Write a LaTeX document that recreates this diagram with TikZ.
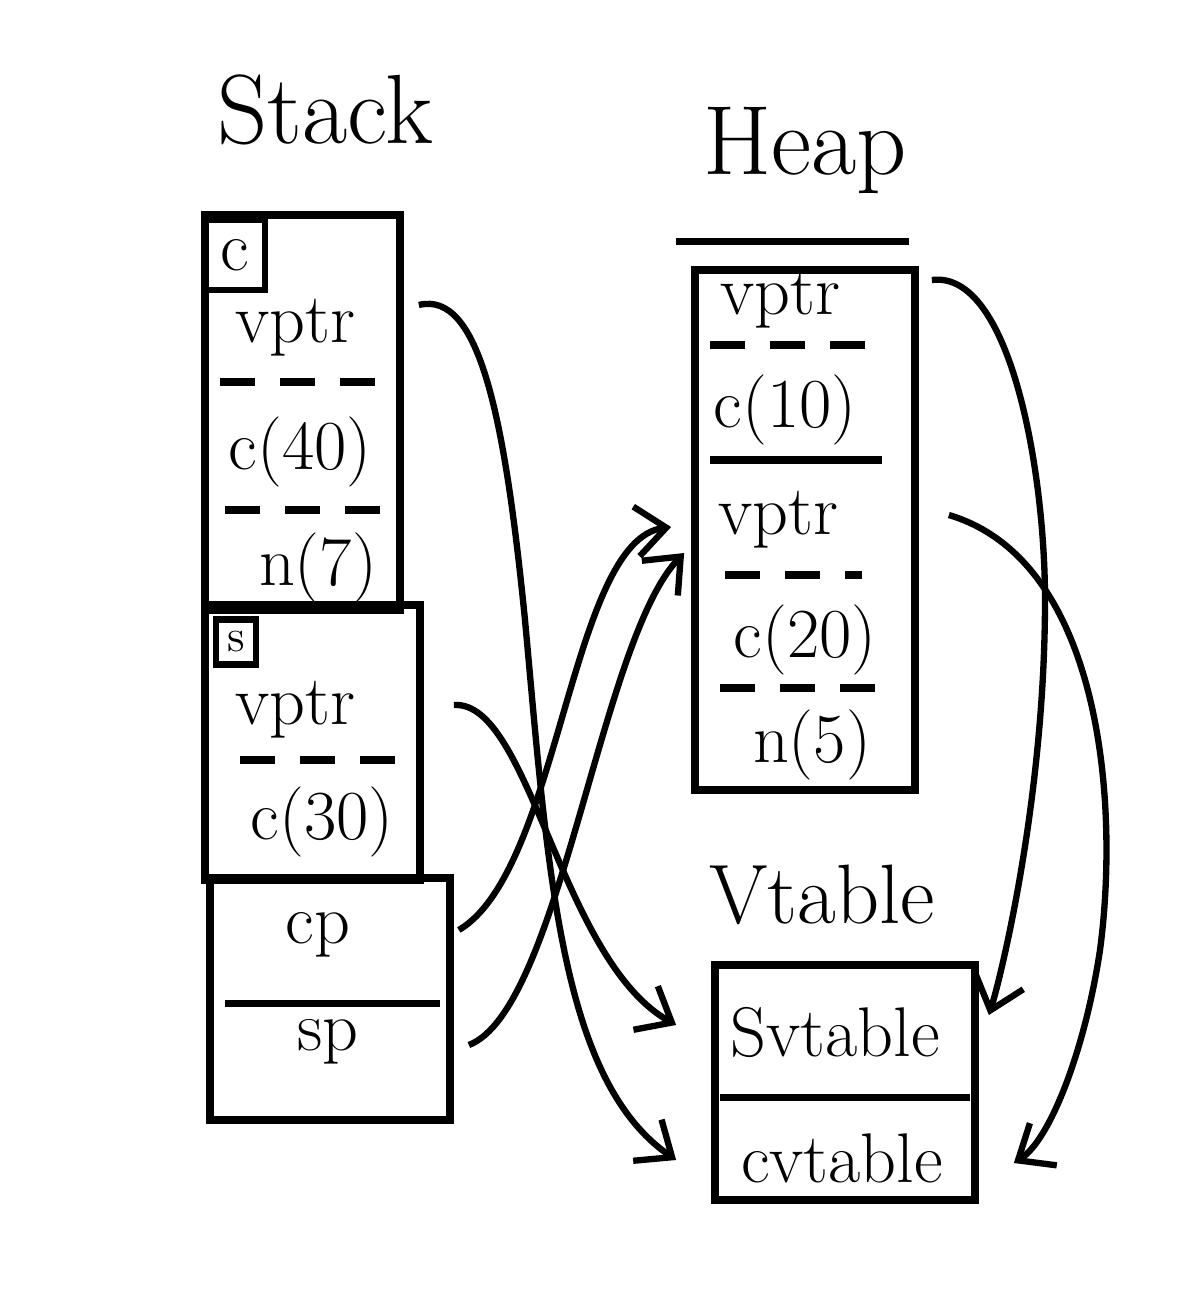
\documentclass[tikz,border=0pt]{standalone}
\usetikzlibrary{calc,arrows.meta}
\begin{document}
\begin{tikzpicture}[x=0.1mm, y=-0.1mm, font=\fontsize{20}{24}\selectfont]
% Define styles
\tikzstyle{box} = [rectangle, draw=black, line width=2.2pt, inner sep=0pt]
\tikzstyle{tag} = [rectangle, draw=black, line width=1.8pt, inner sep=0pt]
\tikzstyle{field} = [inner sep=1pt]
\tikzstyle{title} = [font=\fontsize{28}{32}\selectfont]
\tikzstyle{divider} = [line width=2pt, dash pattern=on 3.5mm off 2.5mm]
\tikzstyle{rule} = [line width=2pt]
\tikzstyle{arrow} = [-{Straight Barb[length=3mm,width=5mm]}, line width=1.8pt, draw=black]

\useasboundingbox (0,0) rectangle (1179,1303);

% Titles
\node[title] (stacktitle) at (325,110) {Stack};
\node[title] (heaptitle) at (805,150) {Heap};
\node[title, font=\fontsize{24}{28}\selectfont] (vtabletitle) at (822,895) {Vtable};

% Define stack boxes
\node[box, minimum width=19.5mm, minimum height=39.5mm] (cbox) at (302.5,412.5) {};
\node[box, minimum width=21.5mm, minimum height=27.5mm] (sbox) at (312.5,742.5) {};
\node[box, minimum width=24mm, minimum height=24.2mm] (pbox) at (330,999) {};
\node[tag, minimum width=6mm, minimum height=7mm] (ctag) at (235,255) {c};
\node[tag, minimum width=4mm, minimum height=4.5mm, font=\fontsize{13}{15}\selectfont] (stag) at (236,642) {s};

% Stack fields
\node[field] (cvptr) at (295,328) {vptr};
\node[field] (cc) at (300,452) {c(40)};
\node[field] (cn) at (318,568) {n(7)};
\node[field] (svptr) at (295,710) {vptr};
\node[field] (sc) at (322,822) {c(30)};
\node[field] (cpn) at (318,935) {cp};
\node[field] (spn) at (328,1042) {sp};
\draw[divider] (220,382) -- (385,382);
\draw[divider] (225,510) -- (390,510);
\draw[divider] (240,760) -- (412,760);
\draw[rule] (225,1003) -- (440,1003);

% Define heap box
\node[box, minimum width=22mm, minimum height=52mm] (heapbox) at (805,530) {};
\draw[rule] ([xshift=-1.5mm,yshift=2.5mm]heapbox.north west) -- ([xshift=-1mm,yshift=2.5mm]heapbox.north east);
\node[field] (hvptra) at (780,300) {vptr};
\node[field] (hca) at (785,410) {c(10)};
\node[field] (hvptrb) at (778,520) {vptr};
\node[field] (hcb) at (805,640) {c(20)};
\node[field] (hnb) at (812,745) {n(5)};
\draw[divider] (710,345) -- (878,345);
\draw[rule] (710,460) -- (882,460);
\draw[divider] (725,575) -- (862,575);
\draw[divider] (720,688) -- (890,688);

% Define vtable box
\node[box, minimum width=26mm, minimum height=23.5mm] (vtbox) at (845,1082.5) {};
\node[field] (svt) at (835,1032) {Svtable};
\node[field] (cvt) at (842,1158) {cvtable};
\draw[rule] (720,1097) -- (970,1097);

% Pointers (arrows)
\draw[arrow] ($(cbox.east |- cvptr)+(15,-23)$) .. controls (480,290) and (505,420) .. (525,620)
  .. controls (548,870) and (560,1080) .. ($(vtbox.west |- cvt)+(-35,2)$);
\draw[arrow] ($(sbox.east |- svptr)+(30,-5)$) .. controls (530,700) and (560,960) .. ($(vtbox.west |- svt)+(-35,-7)$);
\draw[arrow] ($(pbox.east |- cpn)+(5,-5)$) .. controls (560,870) and (570,540) .. ($(heapbox.west |- hvptrb)+(-20,7)$);
\draw[arrow] ($(pbox.east |- spn)+(15,3)$) .. controls (560,1010) and (600,640) .. ($(heapbox.west |- hvptrb)+(-7,33)$);
\draw[arrow] ($(heapbox.east |- hvptra)+(13,-20)$) .. controls (1010,270) and (1045,470) .. (1045,600)
  .. controls (1045,800) and (1000,980) .. ($(vtbox.east |- svt)+(10,-17)$);
\draw[arrow] ($(heapbox.east |- hvptrb)+(30,-5)$) .. controls (1100,560) and (1120,800) .. (1100,950)
  .. controls (1085,1050) and (1050,1140) .. ($(vtbox.east |- cvt)+(35,5)$);

\end{tikzpicture}
\end{document}
